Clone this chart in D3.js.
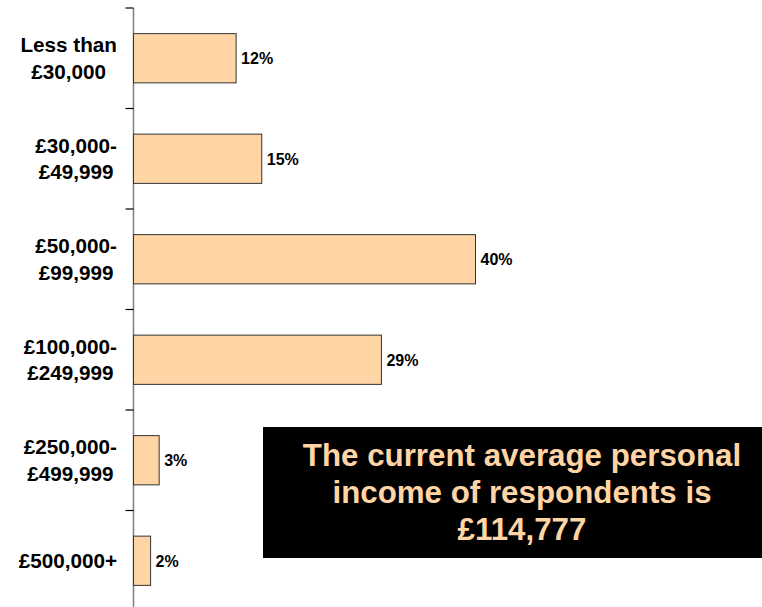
<!DOCTYPE html>
<html>
<head>
<meta charset="utf-8">
<script src="https://cdn.jsdelivr.net/npm/d3@7/dist/d3.min.js"></script>
<style>
  html, body { margin: 0; padding: 0; background: #ffffff; }
  svg { display: block; font-family: "Liberation Sans", Arial, sans-serif; }
</style>
</head>
<body>
<svg id="chart" width="762" height="607"></svg>
<script>
// Income bands (each label may wrap onto two lines)
const categories = [
  ["Less than", "£30,000"],
  ["£30,000-", "£49,999"],
  ["£50,000-", "£99,999"],
  ["£100,000-", "£249,999"],
  ["£250,000-", "£499,999"],
  ["£500,000+"]
];
// Share of respondents in each band (%)
const shares = [12, 15, 40, 29, 3, 2];
const calloutLines = [
  "The current average personal",
  "income of respondents is",
  "£114,777"
];

const svg = d3.select("#chart");
const keys = categories.map((c, i) => "c" + i);

const x = d3.scaleLinear().domain([0, 40]).range([133.5, 475.5]);
const y = d3.scaleBand().domain(keys).range([8, 611]).paddingInner(0.51).paddingOuter(0.255);

// Category axis with ticks between bands
const axisX = 133.5;
svg.append("line")
  .attr("x1", axisX).attr("x2", axisX)
  .attr("y1", 8).attr("y2", 607)
  .attr("stroke", "#808080").attr("stroke-width", 1.5);

const step = y.step();
const boundaries = d3.range(keys.length + 1).map(i => 8 + i * step);
svg.selectAll("line.tick")
  .data(boundaries)
  .join("line")
  .attr("class", "tick")
  .attr("x1", axisX - 8).attr("x2", axisX)
  .attr("y1", d => d).attr("y2", d => d)
  .attr("stroke", "#000").attr("stroke-width", 1.2);

// Bars
svg.selectAll("rect.bar")
  .data(shares)
  .join("rect")
  .attr("class", "bar")
  .attr("x", x(0))
  .attr("y", (d, i) => y(keys[i]))
  .attr("width", d => x(d) - x(0))
  .attr("height", y.bandwidth())
  .attr("fill", "#ffd5a6")
  .attr("stroke", "#333")
  .attr("stroke-width", 1);

// Value labels
svg.selectAll("text.value")
  .data(shares)
  .join("text")
  .attr("class", "value")
  .attr("x", d => x(d) + 5)
  .attr("y", (d, i) => y(keys[i]) + y.bandwidth() / 2)
  .attr("dy", "0.36em")
  .attr("font-size", 16)
  .attr("font-weight", "bold")
  .attr("fill", "#000")
  .text(d => d + "%");

// Category labels: each block is right-aligned against the axis,
// with its lines centred inside the block
const lineGap = 26.5;
const labelRight = 117;
const labels = svg.selectAll("text.cat")
  .data(categories)
  .join("text")
  .attr("class", "cat")
  .attr("text-anchor", "middle")
  .attr("font-size", 20.7)
  .attr("font-weight", "bold")
  .attr("fill", "#000");
labels.each(function (lines, i) {
  const cy = y(keys[i]) + y.bandwidth() / 2;
  const n = lines.length;
  const spans = d3.select(this).selectAll("tspan")
    .data(lines)
    .join("tspan")
    .attr("y", (d, j) => cy + (j - (n - 1) / 2) * lineGap)
    .attr("dy", "0.36em")
    .text(d => d);
  let widest = 0;
  spans.each(function () { widest = Math.max(widest, this.getComputedTextLength()); });
  spans.attr("x", labelRight - widest / 2);
});

// Callout box
svg.append("rect")
  .attr("x", 263).attr("y", 427)
  .attr("width", 499).attr("height", 131)
  .attr("fill", "#000");

svg.append("text")
  .attr("text-anchor", "middle")
  .attr("font-size", 31.3)
  .attr("font-weight", "bold")
  .attr("fill", "#ffd5a6")
  .selectAll("tspan")
  .data(calloutLines)
  .join("tspan")
  .attr("x", 522)
  .attr("y", (d, i) => 466 + i * 37)
  .text(d => d);
</script>
</body>
</html>
